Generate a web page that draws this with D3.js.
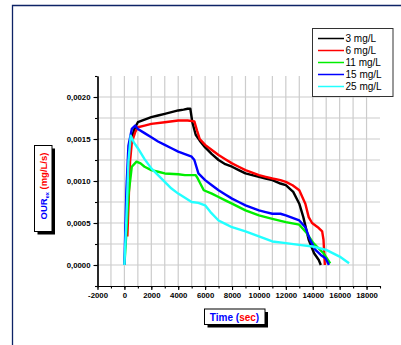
<!DOCTYPE html>
<html>
<head>
<meta charset="utf-8">
<script src="https://cdnjs.cloudflare.com/ajax/libs/d3/7.8.5/d3.min.js"></script>
<style>
  body { margin: 0; background: #fff; }
  svg { display: block; font-family: "Liberation Sans", Arial, sans-serif; }
</style>
</head>
<body>
<div id="chart"></div>
<script>
var width = 401, height = 345;

// values (time in s, OUR in mg/L/s)
var names = ["3 mg/L", "6 mg/L", "11 mg/L", "15 mg/L", "25 mg/L"];
var colours = ["#000000", "#ff0000", "#00ee00", "#0000ff", "#22ffff"];

var t3 = [100, 300, 500, 800, 1000, 1500, 2000, 2500, 3000, 3500, 4000, 4400, 4700, 4900, 5050, 5300, 5600, 6000, 6500, 7000, 7500, 8000, 8500, 9000, 9500, 10000, 10500, 11000, 11600, 12000, 12550, 13000, 13300, 13700, 14100, 14450, 14600];
var v3 = [0.0004, 0.0011, 0.0015, 0.00164, 0.0017, 0.00173, 0.00176, 0.00178, 0.0018, 0.00182, 0.00184, 0.00185, 0.00186, 0.00186, 0.0017, 0.00155, 0.00148, 0.0014, 0.00132, 0.00125, 0.0012, 0.00117, 0.00113, 0.00109, 0.00107, 0.00105, 0.00103, 0.00101, 0.00097, 0.00095, 0.00087, 0.00073, 0.00057, 0.0003, 0.00014, 0.00006, 0];

var t6 = [220, 420, 550, 800, 1000, 1500, 2000, 3000, 4000, 4700, 5200, 5400, 5600, 6000, 6500, 7000, 7500, 8000, 8500, 9000, 9500, 10000, 10500, 11000, 11600, 12000, 12500, 13000, 13450, 13700, 13950, 14450, 14700, 14800, 14900];
var v6 = [0.00034, 0.00123, 0.00146, 0.00158, 0.00164, 0.00166, 0.00168, 0.0017, 0.00172, 0.00172, 0.00171, 0.0016, 0.0015, 0.00143, 0.00137, 0.00131, 0.00126, 0.00121, 0.00117, 0.00113, 0.0011, 0.00107, 0.00105, 0.00103, 0.00101, 0.00099, 0.00095, 0.00089, 0.00073, 0.00057, 0.0005, 0.00044, 0.0004, 0.0003, 0];

var t11 = [0, 150, 300, 550, 900, 1200, 1500, 2000, 2500, 3000, 4000, 4500, 5000, 5300, 5450, 5900, 6500, 7000, 7500, 8000, 9000, 10000, 11000, 12000, 13000, 13550, 14050, 14800, 15300];
var v11 = [0, 0.0004, 0.00083, 0.00117, 0.00123, 0.00121, 0.00117, 0.00113, 0.00111, 0.00109, 0.00108, 0.00107, 0.00107, 0.00107, 0.00103, 0.00089, 0.00085, 0.00081, 0.00077, 0.00073, 0.00065, 0.00059, 0.00055, 0.00051, 0.00048, 0.00038, 0.00026, 0.00014, 0.00002];

var t15 = [0, 150, 300, 550, 800, 1000, 1500, 2000, 2500, 3000, 3500, 4000, 4500, 5000, 5200, 5500, 6000, 6500, 7000, 7500, 8000, 8500, 9000, 9500, 10000, 10500, 11000, 11600, 12000, 13000, 13450, 13800, 14200, 14600, 14950, 15200];
var v15 = [0, 0.0009, 0.00142, 0.00162, 0.00166, 0.00162, 0.00157, 0.00152, 0.00147, 0.00143, 0.00139, 0.00135, 0.00132, 0.00129, 0.00125, 0.00109, 0.00101, 0.00095, 0.00089, 0.00084, 0.00079, 0.00075, 0.00071, 0.00068, 0.00065, 0.00063, 0.00061, 0.00061, 0.00059, 0.00053, 0.00045, 0.0003, 0.00018, 0.00012, 0.00008, 0];

var t25 = [0, 120, 300, 470, 700, 1000, 1500, 2000, 2500, 3000, 3500, 4000, 4500, 5000, 5500, 6000, 6400, 7000, 7500, 8000, 9000, 10000, 11000, 12000, 13000, 14000, 15000, 16000, 16700];
var v25 = [0, 0.00044, 0.00123, 0.00154, 0.00146, 0.00139, 0.00126, 0.00115, 0.00107, 0.00099, 0.00091, 0.00085, 0.0008, 0.00075, 0.00074, 0.00071, 0.00063, 0.00053, 0.00049, 0.00045, 0.0004, 0.00034, 0.00028, 0.00026, 0.00024, 0.00022, 0.00018, 0.0001, 0.00002];

var xTickLabels = [-2000, 0, 2000, 4000, 6000, 8000, 10000, 12000, 14000, 16000, 18000];
var yTickLabels = [0, 0.0005, 0.001, 0.0015, 0.002];

var series = [[t3, v3], [t6, v6], [t11, v11], [t15, v15], [t25, v25]];

var svg = d3.select("#chart").append("svg")
  .attr("width", width)
  .attr("height", height);

// navy page frame (left and top)
svg.append("path")
  .attr("d", "M12.5,345V5.5H401")
  .attr("fill", "none")
  .attr("stroke", "#0d2366")
  .attr("stroke-width", 1.3);

var x = d3.scaleLinear().domain([-2000, 19000]).range([97.5, 380]);
var y = d3.scaleLinear().domain([-0.00025, 0.00225]).range([286, 76]);

// grid
var grid = svg.append("g").attr("stroke", "#cccccc").attr("stroke-width", 1.2);
grid.selectAll("line.v")
  .data(d3.range(-1000, 18001, 1000))
  .enter().append("line")
  .attr("x1", function(d) { return x(d); })
  .attr("x2", function(d) { return x(d); })
  .attr("y1", y(0.00225))
  .attr("y2", y(-0.00025));
grid.selectAll("line.h")
  .data(d3.range(0, 9).map(function(i) { return i * 0.00025; }))
  .enter().append("line")
  .attr("x1", x(-2000))
  .attr("x2", x(19000))
  .attr("y1", function(d) { return y(d); })
  .attr("y2", function(d) { return y(d); });

// data lines
var line = d3.line()
  .x(function(d) { return x(d[0]); })
  .y(function(d) { return y(d[1]); });

series.forEach(function(s, i) {
  var pts = d3.zip(s[0], s[1]);
  svg.append("path")
    .datum(pts)
    .attr("fill", "none")
    .attr("stroke", colours[i])
    .attr("stroke-width", 2.4)
    .attr("stroke-linejoin", "round")
    .attr("d", line);
});

// axes: minor ticks then labelled major ticks
var fmtY = function(d) { return d3.format(".4f")(d).replace(".", ","); };
var fmtX = function(d) { return String(d); };

svg.append("g")
  .attr("transform", "translate(0," + y(-0.00025) + ")")
  .call(d3.axisBottom(x).tickValues(d3.range(-2000, 19001, 1000)).tickSize(2.5).tickFormat("").tickSizeOuter(0));
svg.append("g")
  .attr("class", "xmajor")
  .attr("transform", "translate(0," + y(-0.00025) + ")")
  .call(d3.axisBottom(x).tickValues(xTickLabels).tickFormat(fmtX).tickSize(4).tickPadding(2).tickSizeOuter(0));

svg.append("g")
  .attr("transform", "translate(" + x(-2000) + ",0)")
  .call(d3.axisLeft(y).tickValues(d3.range(-1, 10).map(function(i) { return i * 0.00025; })).tickSize(2.5).tickFormat("").tickSizeOuter(0));
svg.append("g")
  .attr("class", "ymajor")
  .attr("transform", "translate(" + x(-2000) + ",0)")
  .call(d3.axisLeft(y).tickValues(yTickLabels).tickFormat(fmtY).tickSize(4).tickPadding(3).tickSizeOuter(0));

svg.selectAll(".domain").attr("stroke", "#000").attr("stroke-width", 1.2);
svg.selectAll(".tick line").attr("stroke", "#000").attr("stroke-width", 1.1);
svg.selectAll(".xmajor text, .ymajor text")
  .attr("fill", "#000")
  .style("font-family", "'Liberation Sans', Arial, sans-serif")
  .style("font-size", "7.8px")
  .style("font-weight", "bold");

// legend
var legend = svg.append("g");
legend.append("rect")
  .attr("x", 312.5).attr("y", 28.5)
  .attr("width", 80.5).attr("height", 68)
  .attr("fill", "#fff")
  .attr("stroke", "#333")
  .attr("stroke-width", 1);
var li = legend.selectAll("g.item")
  .data(d3.zip(names, colours))
  .enter().append("g")
  .attr("transform", function(d, i) { return "translate(0," + (38.5 + i * 12) + ")"; });
li.append("line")
  .attr("x1", 318).attr("x2", 344)
  .attr("stroke", function(d) { return d[1]; })
  .attr("stroke-width", 1.5);
li.append("text")
  .attr("x", 345.5).attr("y", 3.6)
  .style("font-size", "10px")
  .text(function(d) { return d[0]; });

// axis title boxes with drop shadow
function titleBox(bx, by, bw, bh) {
  svg.append("rect").attr("x", bx + 3).attr("y", by + 3).attr("width", bw).attr("height", bh).attr("fill", "#000");
  svg.append("rect").attr("x", bx).attr("y", by).attr("width", bw).attr("height", bh)
    .attr("fill", "#fff").attr("stroke", "#000").attr("stroke-width", 1);
}

titleBox(34.5, 145.5, 17.5, 86);
var yt = svg.append("text")
  .attr("transform", "translate(46.5,186) rotate(-90)")
  .attr("text-anchor", "middle")
  .style("font-size", "9.5px")
  .style("font-weight", "bold");
yt.append("tspan").attr("fill", "#0000ff").text("OUR");
yt.append("tspan").attr("fill", "#0000ff").attr("dy", 2).style("font-size", "5.5px").text("ex");
yt.append("tspan").attr("fill", "#ff0000").attr("dy", -2).text(" (mg/L/s)");

titleBox(204.5, 309, 60.5, 15.5);
var xt = svg.append("text")
  .attr("x", 234.5).attr("y", 320.5)
  .attr("text-anchor", "middle")
  .style("font-size", "10px")
  .style("font-weight", "bold");
xt.append("tspan").attr("fill", "#0000ff").text("Time (");
xt.append("tspan").attr("fill", "#ff0000").text("sec");
xt.append("tspan").attr("fill", "#0000ff").text(")");
</script>
</body>
</html>
